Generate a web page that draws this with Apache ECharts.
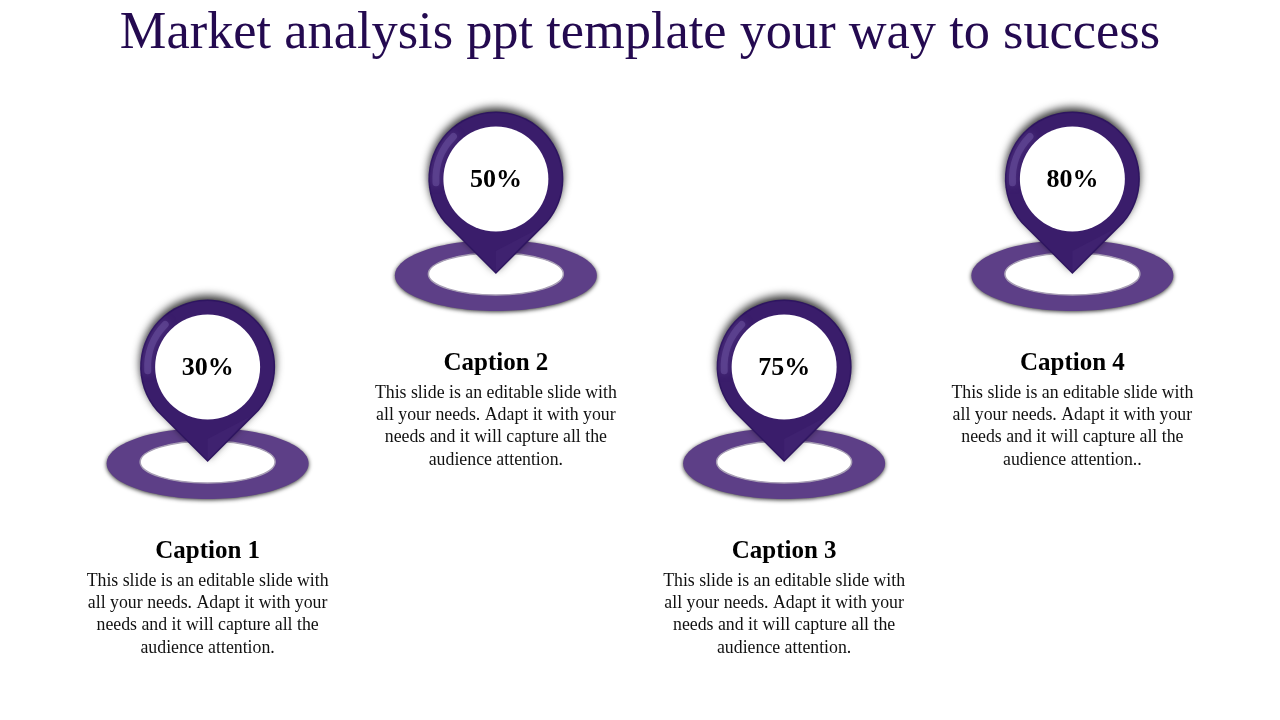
<!DOCTYPE html>
<html><head><meta charset="utf-8">
<style>html,body{margin:0;padding:0;background:#fff}#c{width:1280px;height:720px}</style>
<script src="https://cdn.jsdelivr.net/npm/echarts@6/dist/echarts.min.js"></script>
</head><body><div id="c"></div>
<script>
const titleText = 'Market analysis ppt template your way to success';
const categories = ['Caption 1', 'Caption 2', 'Caption 3', 'Caption 4'];
const values = [30, 50, 75, 80];
const rows = ['lower', 'upper'];
const pinRow = ['lower', 'upper', 'lower', 'upper'];
const bodies = [
  'This slide is an editable slide with\nall your needs. Adapt it with your\nneeds and it will capture all the\naudience attention.',
  'This slide is an editable slide with\nall your needs. Adapt it with your\nneeds and it will capture all the\naudience attention.',
  'This slide is an editable slide with\nall your needs. Adapt it with your\nneeds and it will capture all the\naudience attention.',
  'This slide is an editable slide with\nall your needs. Adapt it with your\nneeds and it will capture all the\naudience attention..'
];
const SERIF = '"Liberation Serif", serif';
const pinPath = 'M-51 44 A67.5 67.5 0 1 1 51 44 L0 95 Z';

function renderPin(params, api) {
  const i = api.value(0);
  const p = api.coord([categories[i], pinRow[i]]);
  return {
    type: 'group', x: p[0], y: p[1],
    children: [
      // ground ring
      { type: 'ellipse', shape: { cx: 0, cy: 96.5, rx: 101, ry: 35.5 },
        style: { fill: '#5d3f87', shadowBlur: 4, shadowColor: 'rgba(0,0,0,0.8)', shadowOffsetY: 1 } },
      { type: 'ellipse', shape: { cx: 0, cy: 95, rx: 67.5, ry: 21 },
        style: { fill: '#fff', stroke: '#a89fb5', lineWidth: 1.5 } },
      // pin body with dark halo on top
      { type: 'path', shape: { pathData: pinPath, x: -67.5, y: -67.5, width: 135, height: 162.5, layout: 'cover' },
        style: { fill: '#2e1560', shadowBlur: 8, shadowColor: 'rgba(0,0,0,0.8)', shadowOffsetY: -4 } },
      { type: 'path', shape: { pathData: pinPath, x: -66, y: -66, width: 132, height: 159, layout: 'cover' },
        style: { fill: '#3a1d6b' } },
      // tip facet
      { type: 'polygon', shape: { points: [[0, 93], [0, 72], [42, 50]] }, style: { fill: '#3f2270' } },
      // bevel highlight on the left
      { type: 'arc', shape: { cx: 0, cy: 0, r: 60, startAngle: Math.PI * 0.98, endAngle: Math.PI * 1.25, clockwise: true },
        style: { fill: null, stroke: 'rgba(104,78,155,0.6)', lineWidth: 7, lineCap: 'round', shadowBlur: 7, shadowColor: '#5f4492' } },
      // white face
      { type: 'circle', shape: { cx: 0, cy: 0, r: 52.5 }, style: { fill: '#fff' } },
      { type: 'text', style: { text: values[i] + '%', x: 0, y: 1, textAlign: 'center', textVerticalAlign: 'middle',
        font: 'bold 26px ' + SERIF, fill: '#000' } },
      // caption and description
      { type: 'text', style: { text: categories[i], x: 0, y: 185, textAlign: 'center', textVerticalAlign: 'middle',
        font: 'bold 25px ' + SERIF, fill: '#000' } },
      { type: 'text', style: { text: bodies[i], x: 0, y: 203, textAlign: 'center', textVerticalAlign: 'top',
        font: '17.8px ' + SERIF, lineHeight: 22.3, fill: '#111' } }
    ]
  };
}

const chart = echarts.init(document.getElementById('c'));
chart.setOption({
  animation: false,
  backgroundColor: '#fff',
  title: { text: titleText, left: 'center', top: 3,
    textStyle: { fontFamily: SERIF, fontWeight: 'normal', fontSize: 52.4, color: '#240a50' } },
  grid: { left: 63.5, width: 1153, top: 85, height: 376 },
  xAxis: { type: 'category', data: categories, show: false },
  yAxis: { type: 'category', data: rows, show: false },
  series: [{ type: 'custom', coordinateSystem: 'cartesian2d', clip: false,
    data: values.map((v, i) => [i, rows.indexOf(pinRow[i]), v]),
    encode: { x: 0, y: 1 }, renderItem: renderPin }]
});
</script></body></html>
